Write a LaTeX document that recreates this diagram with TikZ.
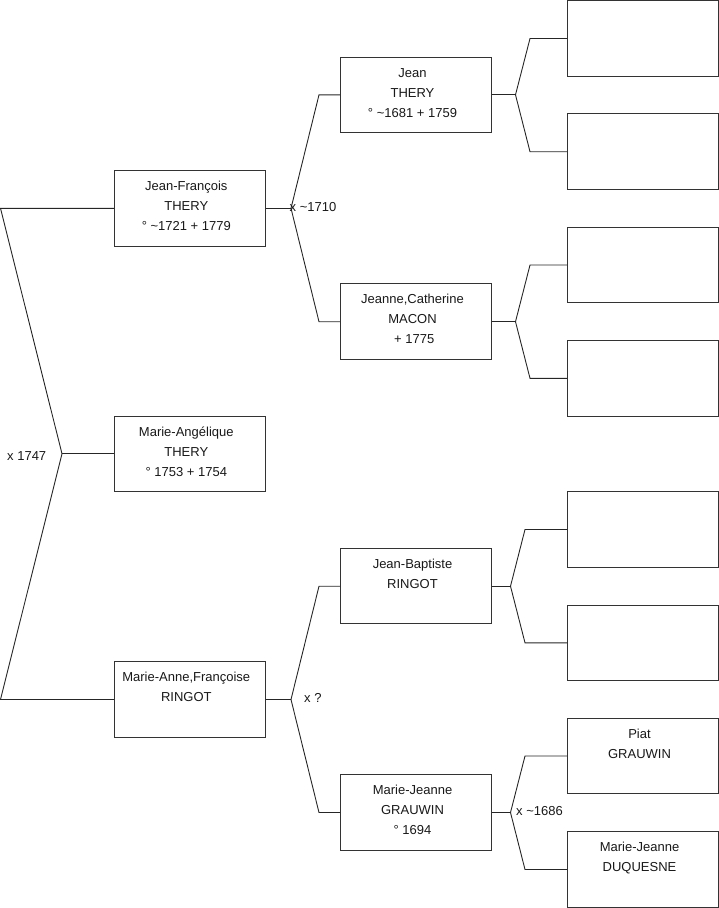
\documentclass[tikz,border=0pt]{standalone}
\usepackage{fontspec}
\setmainfont{Liberation Sans}
\usetikzlibrary{calc}
\begin{document}
\begin{tikzpicture}[x=1pt,y=-1pt,
  person/.style={draw=black!80, line width=1pt, minimum width=151pt, minimum height=75.5pt, inner sep=0pt, fill=white},
  ptext/.style={align=center, inner sep=0pt, anchor=base, font=\fontsize{13}{20}\selectfont, text=black!90},
  mlabel/.style={anchor=base west, inner sep=0pt, font=\fontsize{13}{16}\selectfont, text=black!90},
  link/.style={line width=0.9pt, draw=black!85}]
\useasboundingbox (0,0) rectangle (719,908);

% boxes
\node[person] (jf)  at (189.8,208.3) {};
\node[person] (ma)  at (189.8,453.8) {};
\node[person] (maf) at (189.8,699.5) {};
\node[person] (jean) at (416,94.8) {};
\node[person] (jc)   at (416,321.7) {};
\node[person] (jb)   at (416,586.2) {};
\node[person] (mjg)  at (416,812.5) {};
\node[person] (r1) at (643,38.5) {};
\node[person] (r2) at (643,151.7) {};
\node[person] (r3) at (643,265) {};
\node[person] (r4) at (643,378.3) {};
\node[person] (r5) at (643,529.5) {};
\node[person] (r6) at (643,642.8) {};
\node[person] (r7) at (643,756) {};
\node[person] (r8) at (643,869.5) {};

% texts (anchor base = baseline of the last line)
\node[ptext] (jf-t)  at ($(jf.north)+(-3.5,60.5)$) {Jean-François\\THERY\\° \textasciitilde1721 + 1779};
\node[ptext] (ma-t)  at ($(ma.north)+(-3.5,60.5)$) {Marie-Angélique\\THERY\\° 1753 + 1754};
\node[ptext] (maf-t) at ($(maf.north)+(-3.5,40.5)$) {Marie-Anne,Françoise\\RINGOT};
\node[ptext] (jean-t) at ($(jean.north)+(-3.5,60.5)$) {Jean\\THERY\\° \textasciitilde1681 + 1759};
\node[ptext] (jc-t)   at ($(jc.north)+(-3.5,60.5)$) {Jeanne,Catherine\\MACON\\~+ 1775};
\node[ptext] (jb-t)   at ($(jb.north)+(-3.5,40.5)$) {Jean-Baptiste\\RINGOT};
\node[ptext] (mjg-t)  at ($(mjg.north)+(-3.5,60.5)$) {Marie-Jeanne\\GRAUWIN\\° 1694};
\node[ptext] (r7-t)   at ($(r7.north)+(-3.5,40.5)$) {Piat\\GRAUWIN};
\node[ptext] (r8-t)   at ($(r8.north)+(-3.5,40.5)$) {Marie-Jeanne\\DUQUESNE};

% bracket coordinates
\coordinate (b0t) at (0.5,208.3);
\coordinate (b0a) at (62,453.8);
\coordinate (b0b) at (0.5,699.5);

\coordinate (a1) at (291,208.3);
\coordinate (c1t) at (319,94.8);
\coordinate (c1b) at (319,321.7);

\coordinate (a2) at (291,699.5);
\coordinate (c2t) at (319,586.2);
\coordinate (c2b) at (319,812.5);

\coordinate (a3) at (515.5,94.8);
\coordinate (c3t) at (530,38.5);
\coordinate (c3b) at (530,151.7);

\coordinate (a4) at (515.5,321.7);
\coordinate (c4t) at (530,265);
\coordinate (c4b) at (530,378.3);

\coordinate (a5) at (510.5,586.2);
\coordinate (c5t) at (525,529.5);
\coordinate (c5b) at (525,642.8);

\coordinate (a6) at (510.5,812.5);
\coordinate (c6t) at (525,756);
\coordinate (c6b) at (525,869.5);

% connectors
\draw[link] (jf.west) -- (b0t) -- (b0a) -- (b0b) -- (maf.west);
\draw[link] (b0a) -- (ma.west);

\draw[link] (jf.east) -- (a1);
\draw[link] (jean.west) -- (c1t) -- (a1) -- (c1b) -- (jc.west);

\draw[link] (maf.east) -- (a2);
\draw[link] (jb.west) -- (c2t) -- (a2) -- (c2b) -- (mjg.west);

\draw[link] (jean.east) -- (a3);
\draw[link] (r1.west) -- (c3t) -- (a3) -- (c3b) -- (r2.west);

\draw[link] (jc.east) -- (a4);
\draw[link] (r3.west) -- (c4t) -- (a4) -- (c4b) -- (r4.west);

\draw[link] (jb.east) -- (a5);
\draw[link] (r5.west) -- (c5t) -- (a5) -- (c5b) -- (r6.west);

\draw[link] (mjg.east) -- (a6);
\draw[link] (r7.west) -- (c6t) -- (a6) -- (c6b) -- (r8.west);

% marriage labels
\node[mlabel] (m0) at (7,460) {x 1747};
\node[mlabel] (m1) at (289.5,211) {x \textasciitilde1710};
\node[mlabel] (m2) at (304,702.5) {x ?};
\node[mlabel] (m3) at (516,815.5) {x \textasciitilde1686};
\end{tikzpicture}
\end{document}
